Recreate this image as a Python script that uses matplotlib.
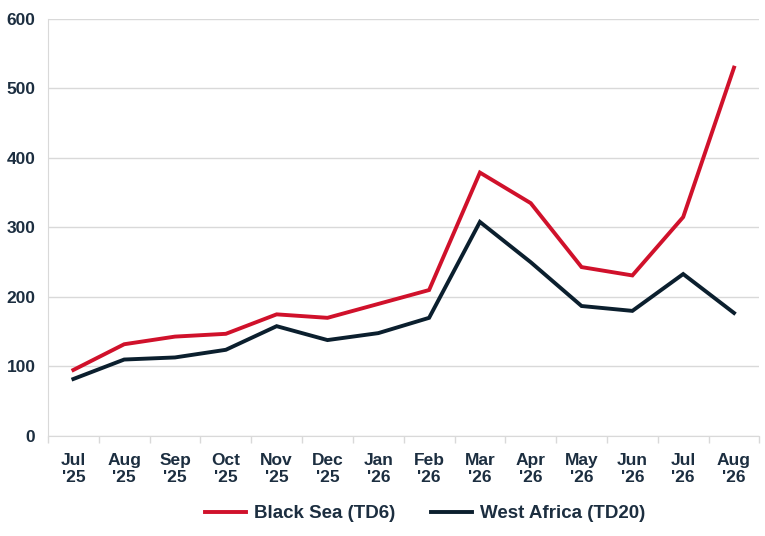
import matplotlib
matplotlib.use("Agg")
import matplotlib.pyplot as plt
import numpy as np

months = ["Jul\n'25", "Aug\n'25", "Sep\n'25", "Oct\n'25", "Nov\n'25", "Dec\n'25", "Jan\n'26",
          "Feb\n'26", "Mar\n'26", "Apr\n'26", "May\n'26", "Jun\n'26", "Jul\n'26", "Aug\n'26"]
black_sea = [95, 132, 143, 147, 175, 170, 190, 210, 379, 335, 243, 231, 315, 530]
west_africa = [82, 110, 113, 124, 158, 138, 148, 170, 308, 250, 187, 180, 233, 177]
y_ticks = [0, 100, 200, 300, 400, 500, 600]

plt.rcParams['font.family'] = ['Liberation Sans', 'DejaVu Sans']
txt = '#1c2e40'

fig = plt.figure(figsize=(7.65, 5.36), dpi=100)
ax = fig.add_axes([0.0627, 0.1866, 0.93, 0.778])
x = np.arange(len(months))
ax.plot(x, black_sea, color='#d0112b', lw=2.8, label='Black Sea (TD6)', solid_joinstyle='miter')
ax.plot(x, west_africa, color='#0b1f2e', lw=2.8, label='West Africa (TD20)', solid_joinstyle='miter')

ax.set_xlim(-0.5, len(months) - 0.5)
ax.set_ylim(0, 600)
ax.set_yticks(y_ticks)
ax.set_yticklabels([str(v) for v in y_ticks], fontsize=12.5, fontweight='bold', color=txt)
ax.set_xticks(x)
ax.set_xticklabels(months, fontsize=12.5, fontweight='bold', color=txt, linespacing=1.2)
ax.set_xticks(np.arange(-0.5, len(months) - 0.4, 1), minor=True)
ax.tick_params(axis='x', which='major', length=0, pad=12)
ax.tick_params(axis='x', which='minor', length=5, color='#d9d9d9', width=1)
ax.tick_params(axis='y', length=0, pad=9)
ax.grid(axis='y', color='#d9d9d9', lw=1)
ax.set_axisbelow(True)
for s in ['top', 'right']:
    ax.spines[s].set_visible(False)
ax.spines['left'].set_color('#d9d9d9')
ax.spines['bottom'].set_color('#d9d9d9')

leg = ax.legend(loc='upper center', bbox_to_anchor=(0.53, -0.125), ncol=2, frameon=False,
                fontsize=13.5, handlelength=2.2, columnspacing=1.9, handletextpad=0.4)
for t in leg.get_texts():
    t.set_fontweight('bold')
    t.set_color(txt)

fig.savefig('out.png', dpi=100)
